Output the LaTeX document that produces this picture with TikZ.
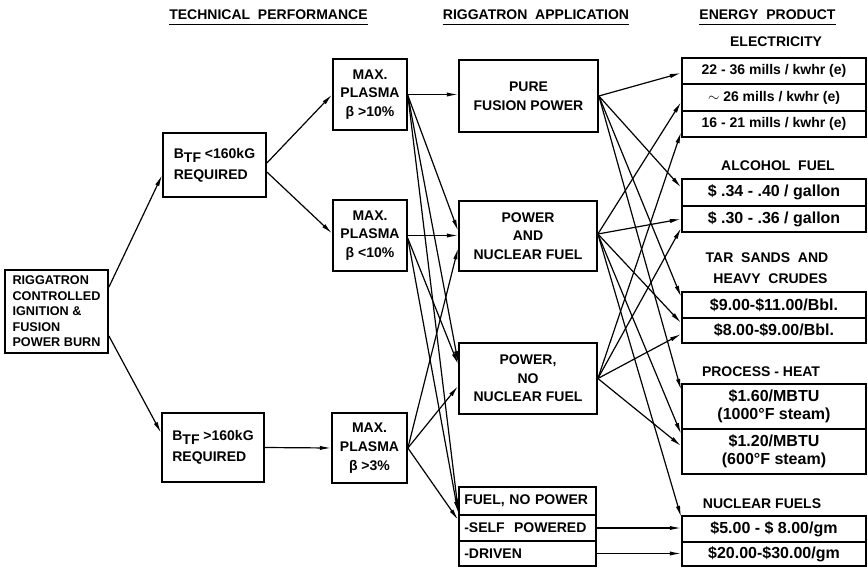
\documentclass[tikz,border=0pt]{standalone}
\usepackage{fontspec}
\setmainfont{Liberation Sans}
\usetikzlibrary{arrows.meta,calc}
\tikzset{
  box/.style={draw, line width=1.3pt, inner sep=0pt, align=center, font=\fontsize{10.5}{14}\selectfont\bfseries},
  lrow/.style={box, text width=94.75pt, inner xsep=4pt, align=left},
  ebox/.style={box, minimum width=138pt, font=\fontsize{10.5}{13.5}\selectfont\bfseries},
  pbox/.style={ebox, font=\fontsize{12}{13.5}\selectfont\bfseries},
  lbl/.style={inner sep=0pt, font=\fontsize{10.5}{13}\selectfont\bfseries},
  uline/.style={line width=1pt},
  arr/.style={line width=0.9pt, -{Latex[length=8.5pt,width=3.2pt]}}
}
\begin{document}
\begin{tikzpicture}[x=0.75pt,y=-0.75pt]
\useasboundingbox (0,0) rectangle (868,568);

% headings
\node[lbl] (h1) at (268.5,15) {TECHNICAL\ \ PERFORMANCE};
\node[lbl] (h2) at (536,15) {RIGGATRON\ \ APPLICATION};
\node[lbl] (h3) at (767.5,15) {ENERGY\ \ PRODUCT};
\draw[uline] ($(h1.south west)+(0,4)$) -- ($(h1.south east)+(0,4)$);
\draw[uline] ($(h2.south west)+(0,4)$) -- ($(h2.south east)+(0,4)$);
\draw[uline] ($(h3.south west)+(0,4)$) -- ($(h3.south east)+(0,4)$);

% left column
\node[box, minimum width=77.25pt, minimum height=62.25pt, align=left,
      font=\fontsize{9.5}{11.6}\selectfont\bfseries] (rig) at (56.5,311.5)
      {RIGGATRON\\CONTROLLED\\IGNITION \&\\FUSION\\POWER BURN};
\node[box, minimum width=77.25pt, minimum height=48pt, align=left] (btfa) at (214.5,165)
      {B\raisebox{-3pt}{TF}\ <160kG\\[2pt]REQUIRED};
\node[box, minimum width=76.5pt, minimum height=51.75pt, align=left] (btfb) at (213,447.5)
      {B\raisebox{-3pt}{TF}\ >160kG\\[2pt]REQUIRED};

\node[box, minimum width=55.5pt, minimum height=53.25pt] (ma) at (370,94.5) {MAX.\\PLASMA\\β >10\%};
\node[box, minimum width=55.5pt, minimum height=53.25pt] (mb) at (370,235.5) {MAX.\\PLASMA\\β <10\%};
\node[box, minimum width=56.25pt, minimum height=52.5pt] (mc) at (369.5,448) {MAX.\\PLASMA\\β >3\%};

% application column
\node[box, minimum width=104.25pt, minimum height=54pt] (pf) at (528.5,96) {PURE\\FUSION POWER};
\node[box, minimum width=103.5pt, minimum height=52.5pt] (pnf) at (528,236) {POWER\\AND\\NUCLEAR FUEL};
\node[box, minimum width=103.5pt, minimum height=53.25pt] (pnnf) at (528,378.5) {POWER,\\NO\\NUCLEAR FUEL};
\node[lrow, minimum height=21pt] (fnpa) at (527.5,501) {FUEL, NO POWER};
\node[lrow, minimum height=19.5pt] (fnpb) at (527.5,528) {-SELF\ \ POWERED};
\node[lrow, minimum height=18.75pt] (fnpc) at (527.5,553.5) {-DRIVEN};

% energy product column
\node[lbl] (lel) at (776,42) {ELECTRICITY};
\node[ebox, minimum height=19.5pt] (elec1) at (774,71) {22 - 36 mills / kwhr (e)};
\node[ebox, minimum height=20.25pt] (elec2) at (774,97.5) {$\sim$ 26 mills / kwhr (e)};
\node[ebox, minimum height=19.5pt] (elec3) at (774,124) {16 - 21 mills / kwhr (e)};
\node[lbl] (lal) at (778,166) {ALCOHOL\ \ FUEL};
\node[pbox, minimum height=20.25pt] (alc1) at (774,192.5) {\$ .34 - .40 / gallon};
\node[pbox, minimum height=19.5pt] (alc2) at (774,219) {\$ .30 - .36 / gallon};
\node[lbl] (lta) at (767,258) {TAR\ \ SANDS\ \ AND};
\node[lbl] (ltb) at (770.5,279) {HEAVY\ \ CRUDES};
\node[pbox, minimum height=19.5pt] (tar1) at (774,305) {\$9.00-\$11.00/Bbl.};
\node[pbox, minimum height=18.75pt] (tar2) at (774,330.5) {\$8.00-\$9.00/Bbl.};
\node[lbl] (lph) at (761,372) {PROCESS - HEAT};
\node[pbox, minimum height=33.75pt] (ph1) at (774,406.5) {\$1.60/MBTU\\(1000°F steam)};
\node[pbox, minimum height=33.75pt] (ph2) at (774,451.5) {\$1.20/MBTU\\(600°F steam)};
\node[lbl] (lnu) at (762,504) {NUCLEAR FUELS};
\node[pbox, minimum height=19.5pt] (nuc1) at (774,529) {\$5.00 - \$ 8.00/gm};
\node[pbox, minimum height=18pt] (nuc2) at (774,554) {\$20.00-\$30.00/gm};

% left connectors
\draw[arr] ($(rig.north east)+(0,18)$) -- ($(btfa.west)+(0,10)$);
\draw[arr] ($(rig.south east)+(0,-18)$) -- ($(btfb.west)+(0,-14.5)$);
\draw[arr] ($(btfa.east)+(0,-2)$) -- (ma.west);
\draw[arr] ($(btfa.east)+(0,7)$) -- ($(mb.west)+(0,-2)$);
\draw[arr] (btfb.east) -- (mc.west);

% technical -> application
\draw[arr] (ma.east) -- (pf.west |- ma.east);
\draw[arr] ($(ma.east)+(0,1)$) -- ($(pnf.west)+(0,-5)$);
\draw[arr] ($(ma.east)+(0,1)$) -- ($(pnnf.west)+(0,-16)$);
\draw[arr] ($(ma.east)+(0,1)$) -- ($(fnpa.south west)+(0,-6)$);
\draw[arr] (mb.east) -- (pnf.west |- mb.east);
\draw[arr] ($(mb.east)+(0,3)$) -- ($(pnnf.west)+(0,-14)$);
\draw[arr] ($(mb.east)+(0,3)$) -- ($(fnpa.south west)+(0,-3)$);
\draw[arr] (mc.east) -- ($(pnf.west)+(0,12)$);
\draw[arr] (mc.east) -- ($(pnnf.west)+(0,7.5)$);
\draw[arr] (mc.east) -- ($(fnpb.west)+(0,-8)$);

% application -> energy product
\draw[arr] (pf.east) -- ($(elec1.west)+(0,2)$);
\draw[arr] (pf.east) -- ($(alc1.west)+(0,-5)$);
\draw[arr] (pf.east) -- ($(tar1.west)+(0,-8)$);
\draw[arr] (pf.east) -- ($(ph1.north west)+(0,7)$);

\draw[arr] ($(pnf.east)+(0,-2)$) -- ($(elec2.west)+(0,4.5)$);
\draw[arr] ($(pnf.east)+(0,-2)$) -- (alc2.west);
\draw[arr] ($(pnf.east)+(0,-2)$) -- ($(tar2.west)+(0,-7.5)$);
\draw[arr] ($(pnf.east)+(0,-2)$) -- ($(ph2.north west)+(0,6)$);
\draw[arr] ($(pnf.east)+(0,-2)$) -- ($(nuc1.north west)+(0,2)$);

\draw[arr] (pnnf.east) -- ($(elec3.west)+(0,8)$);
\draw[arr] (pnnf.east) -- ($(alc2.west)+(0,9)$);
\draw[arr] (pnnf.east) -- ($(tar2.west)+(0,3.5)$);
\draw[arr] (pnnf.east) -- ($(ph2.west)+(0,-5.5)$);

\draw[arr] (fnpb.east) -- (nuc1.west |- fnpb.east);
\draw[arr] (fnpc.east) -- (nuc2.west |- fnpc.east);
\end{tikzpicture}
\end{document}
